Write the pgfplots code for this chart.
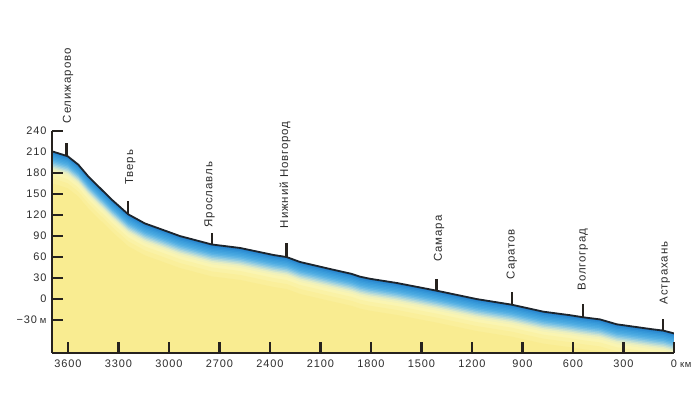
\documentclass[border=0pt]{standalone}
\usepackage{pgfplots}
\pgfplotsset{compat=1.18}
\usepackage{pgfplotstable}
\usepackage{fontspec}
\setmainfont{Liberation Sans}
\newfontfamily\tickfont[LetterSpace=8]{Liberation Sans}
\newfontfamily\cityfont[LetterSpace=8]{Liberation Sans}

\definecolor{cLine}{RGB}{28,36,44}
\definecolor{cAxis}{RGB}{38,34,30}
\definecolor{cText}{RGB}{45,45,45}
\definecolor{c0}{RGB}{35,125,200}
\definecolor{c1}{RGB}{45,140,210}
\definecolor{c2}{RGB}{52,150,216}
\definecolor{c3}{RGB}{60,158,220}
\definecolor{c4}{RGB}{68,165,223}
\definecolor{c5}{RGB}{78,172,226}
\definecolor{c6}{RGB}{95,181,228}
\definecolor{c7}{RGB}{118,192,228}
\definecolor{c8}{RGB}{146,204,225}
\definecolor{c9}{RGB}{176,216,218}
\definecolor{c10}{RGB}{204,227,208}
\definecolor{c11}{RGB}{228,237,196}
\definecolor{c12}{RGB}{242,242,186}
\definecolor{c13}{RGB}{250,245,178}
\definecolor{c14}{RGB}{250,242,166}
\definecolor{c15}{RGB}{250,239,155}
\definecolor{c16}{RGB}{249,236,145}

\pgfplotstableread{
x y
3695 211
3602 204
3539 192
3479 175
3420 161
3340 142
3242 121
3143 108
3073 102
2935 90
2746 78
2578 73
2380 63
2301 60
2222 53
2044 43
1915 36
1865 32
1806 29
1647 23
1410 12
1271 5
1172 0
964 -8
776 -18
618 -23
539 -26
440 -29
340 -36
132 -43
64 -45
0 -49
}\profile

\pgfplotstableread{
x y
3695 -300
3695 211
3602 204
3539 192
3479 175
3420 161
3340 142
3242 121
3143 108
3073 102
2935 90
2746 78
2578 73
2380 63
2301 60
2222 53
2044 43
1915 36
1865 32
1806 29
1647 23
1410 12
1271 5
1172 0
964 -8
776 -18
618 -23
539 -26
440 -29
340 -36
132 -43
64 -45
0 -49
0 -300
}\profilefill

\begin{document}
\begin{tikzpicture}
\begin{axis}[
  scale only axis, width=622bp, height=222bp,
  xmin=0, xmax=3695, ymin=-77, ymax=240,
  x dir=reverse,
  axis x line=bottom, axis y line=left,
  axis line style={-, line width=2bp, color=cAxis},
  tick align=inside,
  major tick length=11bp,
  major tick style={line width=2.6bp, color=cAxis},
  minor tick length=11bp,
  minor tick style={line width=1.6bp, color=cAxis},
  xtick={0,300,600,900,1200,1500,1800,2100,2400,2700,3000,3300,3600},
  xticklabels={0\rlap{\hspace{3bp}{\fontsize{9.5}{10}\selectfont км}},300,600,900,1200,1500,1800,2100,2400,2700,3000,3300,3600},
  ytick={-30,0,30,60,90,120,150,180},
  yticklabels={−30\hspace{3bp}{\fontsize{9.5}{10}\selectfont м},0,30,60,90,120,150,180},
  extra y ticks={210,240},
  extra y tick labels={210,240},
  extra y tick style={major tick length=0pt},
  minor ytick={240},
  ticklabel style={font=\tickfont\fontsize{11}{13}\selectfont, text=cText},
  xticklabel style={yshift=-3bp},
  yticklabel style={xshift=-2bp},
  axis on top,
  after end axis/.code={
    \begin{scope}[every node/.style={rotate=90, anchor=west, inner sep=0pt, text=cText, font=\cityfont\fontsize{11.5}{13}\selectfont}]
    \node at (axis cs:3600,251) {Селижарово};
    \node at (axis cs:3230,163) {Тверь};
    \node at (axis cs:2758,102) {Ярославль};
    \node at (axis cs:2310,101) {Нижний Новгород};
    \node at (axis cs:1396,53) {Самара};
    \node at (axis cs:964,28) {Саратов};
    \node at (axis cs:542,12) {Волгоград};
    \node at (axis cs:54,-8) {Астрахань};
    \end{scope}
  },
]
\addplot[fill=c0, draw=none] table {\profilefill};
\addplot[fill=c1, draw=none, yshift=-1.5bp] table {\profilefill};
\addplot[fill=c2, draw=none, yshift=-3bp] table {\profilefill};
\addplot[fill=c3, draw=none, yshift=-4.5bp] table {\profilefill};
\addplot[fill=c4, draw=none, yshift=-6bp] table {\profilefill};
\addplot[fill=c5, draw=none, yshift=-7.5bp] table {\profilefill};
\addplot[fill=c6, draw=none, yshift=-9bp] table {\profilefill};
\addplot[fill=c7, draw=none, yshift=-10.5bp] table {\profilefill};
\addplot[fill=c8, draw=none, yshift=-12bp] table {\profilefill};
\addplot[fill=c9, draw=none, yshift=-13.5bp] table {\profilefill};
\addplot[fill=c10, draw=none, yshift=-15bp] table {\profilefill};
\addplot[fill=c11, draw=none, yshift=-16.5bp] table {\profilefill};
\addplot[fill=c12, draw=none, yshift=-18bp] table {\profilefill};
\addplot[fill=c13, draw=none, yshift=-20bp] table {\profilefill};
\addplot[fill=c14, draw=none, yshift=-23bp] table {\profilefill};
\addplot[fill=c15, draw=none, yshift=-27bp] table {\profilefill};
\addplot[fill=c16, draw=none, yshift=-32bp] table {\profilefill};
\addplot[cLine, line width=1.8bp, line join=round] table {\profile};
% city markers
\addplot[cAxis, line width=2.4bp] coordinates {(3608,204) (3608,223)};
\addplot[cAxis, line width=2.4bp] coordinates {(3242,121) (3242,140)};
\addplot[cAxis, line width=2.4bp] coordinates {(2746,78) (2746,95)};
\addplot[cAxis, line width=2.4bp] coordinates {(2301,60) (2301,80)};
\addplot[cAxis, line width=2.4bp] coordinates {(1410,12) (1410,29)};
\addplot[cAxis, line width=2.4bp] coordinates {(964,-8) (964,10)};
\addplot[cAxis, line width=2.4bp] coordinates {(539,-26) (539,-7)};
\addplot[cAxis, line width=2.4bp] coordinates {(64,-45) (64,-29)};
\end{axis}
\path (current axis.south west) ++(-52bp,-42bp) rectangle ++(698bp,395bp);
\end{tikzpicture}
\end{document}
